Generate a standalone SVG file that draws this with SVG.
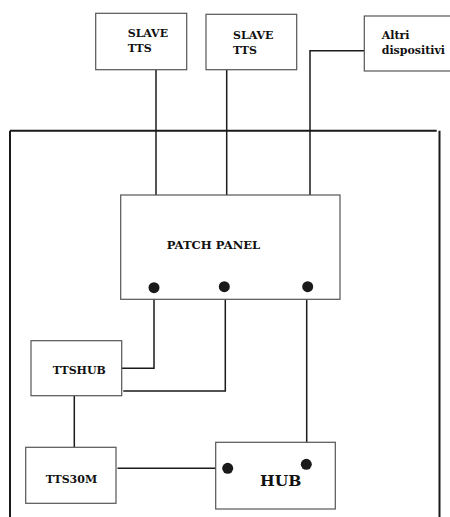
<svg xmlns="http://www.w3.org/2000/svg" width="450" height="517" viewBox="0 0 450 517">
<style>
.box{fill:#fff;stroke:#555;stroke-width:1.2}
.t{font-family:"DejaVu Serif","Liberation Serif",serif;font-weight:bold;font-size:11px;fill:#111}
.c{fill:none;stroke:#1a1a1a;stroke-width:1.5}
.f{fill:none;stroke:#1a1a1a;stroke-width:2}
.dot{fill:#1a1a1a}
</style>
<rect width="450" height="517" fill="#fff"/>
<g id="frame">
<path class="f" d="M10 130.7H436.7M10 130.7V517M439.5 130.7V517"/>
</g>
<g id="connectors">
<path class="c" d="M156 70V195"/>
<path class="c" d="M226.7 70V195"/>
<path class="c" d="M364 50.7H310V197"/>
<path class="c" d="M154 288V368.3H122"/>
<path class="c" d="M225.3 287V391H123.3" stroke-width="2"/>
<path class="c" d="M306.7 287V464"/>
<path class="c" d="M74.3 396V447.3"/>
<path class="c" d="M117.5 468.3H227.7"/>
</g>
<g id="slave1">
<rect class="box" x="95.7" y="13.3" width="91" height="56.4"/>
<text class="t" x="127.7" y="37">SLAVE</text>
<text class="t" x="127.7" y="52">TTS</text>
</g>
<g id="slave2">
<rect class="box" x="206" y="14.3" width="90.7" height="55.4"/>
<text class="t" x="233" y="39">SLAVE</text>
<text class="t" x="233" y="54">TTS</text>
</g>
<g id="altri">
<rect class="box" x="364.3" y="16" width="100" height="55"/>
<text class="t" x="381.7" y="39">Altri</text>
<text class="t" x="381.7" y="54">dispositivi</text>
</g>
<g id="patchpanel">
<rect class="box" x="120.7" y="195" width="219.3" height="104.3"/>
<text class="t" x="166.7" y="248.7" style="font-size:11.6px">PATCH PANEL</text>
<circle class="dot" cx="154" cy="287.7" r="5.5"/>
<circle class="dot" cx="224.3" cy="286.7" r="5.5"/>
<circle class="dot" cx="307.7" cy="286.7" r="5.5"/>
</g>
<g id="ttshub">
<rect class="box" x="31" y="340.7" width="90.7" height="55"/>
<text class="t" x="52.7" y="374.3">TTSHUB</text>
</g>
<g id="tts30m">
<rect class="box" x="25.7" y="447.3" width="90.3" height="56"/>
<text class="t" x="45.7" y="482.7">TTS30M</text>
</g>
<g id="hub">
<rect class="box" x="215.7" y="442.3" width="119.6" height="66.7"/>
<text class="t" x="260" y="485.7" style="font-size:15.5px">HUB</text>
<circle class="dot" cx="227.7" cy="468.3" r="5.5"/>
<circle class="dot" cx="306.3" cy="464.3" r="5.5"/>
</g>
</svg>
